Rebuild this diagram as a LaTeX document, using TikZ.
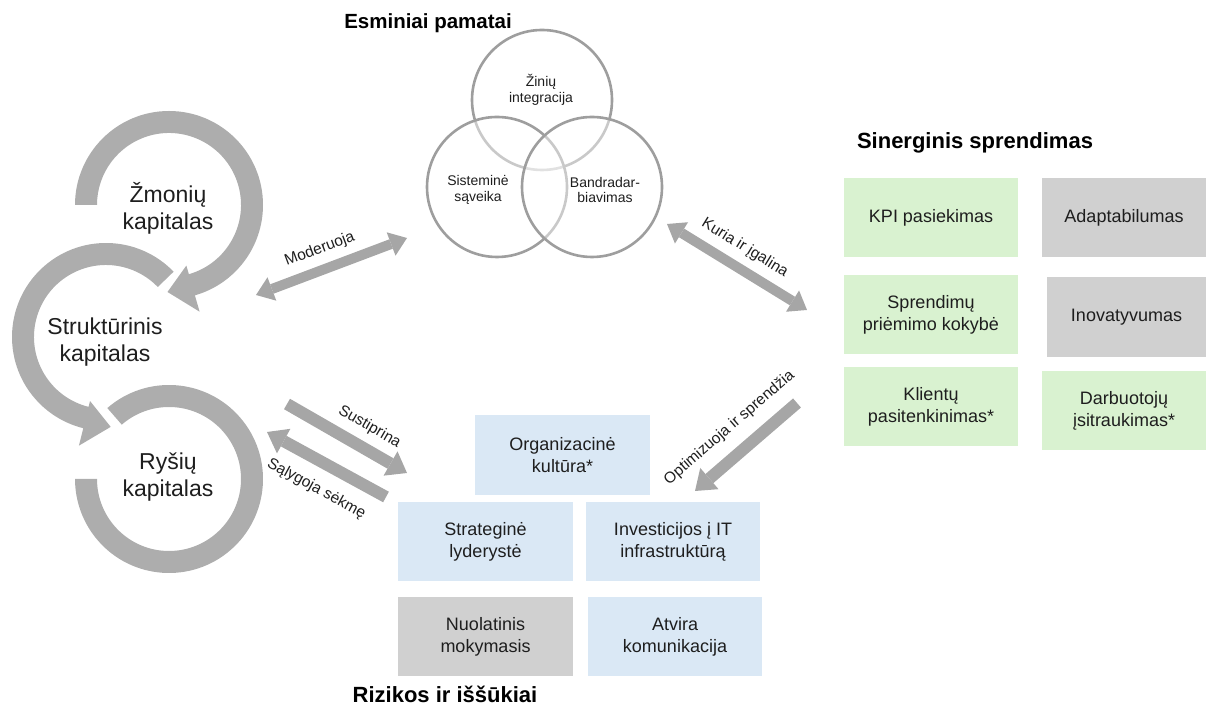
\documentclass[tikz,border=0pt]{standalone}
\usepackage{fontspec}
\setmainfont{Liberation Sans}
\usetikzlibrary{arrows.meta,calc}

\definecolor{boxblue}{RGB}{218,232,245}
\definecolor{boxgreen}{RGB}{217,242,208}
\definecolor{boxgrey}{RGB}{208,208,208}
\definecolor{arrowgrey}{RGB}{166,166,166}
\definecolor{cyclegrey}{RGB}{173,173,173}
\definecolor{ringgrey}{RGB}{158,158,158}
\definecolor{ink}{RGB}{30,30,30}

\tikzset{
  tile/.style={rectangle, inner sep=2pt, align=center, text=ink,
    font=\fontsize{18}{22}\selectfont},
  bluetile/.style={tile, fill=boxblue},
  greentile/.style={tile, fill=boxgreen},
  greytile/.style={tile, fill=boxgrey},
  ring/.style={circle, minimum size=140pt, inner sep=0pt, draw=ringgrey,
    line width=2.6pt, fill=white, fill opacity=0.45},
  ringtext/.style={align=center, text=ink, font=\fontsize{14}{15.5}\selectfont},
  heading/.style={font=\bfseries\fontsize{22}{24}\selectfont, text=black},
  cyclab/.style={align=center, text=ink, font=\fontsize{23}{27}\selectfont},
  cycarc/.style={fill=cyclegrey},
  arrowlab/.style={text=ink, font=\fontsize{15.5}{17}\selectfont, inner sep=1pt},
  twoway/.style={draw=arrowgrey, line width=10pt,
    {Triangle[length=17pt,width=25pt,line width=0pt]}-{Triangle[length=17pt,width=25pt,line width=0pt]}},
  oneway/.style={draw=arrowgrey, line width=12pt,
    -{Triangle[length=19pt,width=28pt,line width=0pt]}}
}

\begin{document}
\begin{tikzpicture}[x=1pt,y=1pt]
\useasboundingbox (0,0) rectangle (1206,706);

% ---------- capital cycle ----------
\coordinate (C1) at (169,501);
\coordinate (C2) at (106,369);
\coordinate (C3) at (169,227);

\fill[cycarc] ($(C1)+(180:94)$) arc[start angle=180,end angle=-74,radius=94]
  -- ($(C1)+(-74:111)$) -- ($(C1)+(-91:87)$) -- ($(C1)+(-74:63)$)
  -- ($(C1)+(-74:72)$) arc[start angle=-74,end angle=180,radius=72] -- cycle;

\fill[cycarc] ($(C2)+(44:94)$) arc[start angle=44,end angle=256,radius=94]
  -- ($(C2)+(256:112)$) -- ($(C2)+(273:90)$) -- ($(C2)+(256:66)$)
  -- ($(C2)+(256:72)$) arc[start angle=256,end angle=44,radius=72] -- cycle;

\fill[cycarc] ($(C3)+(131:94)$) arc[start angle=131,end angle=-180,radius=94]
  -- ($(C3)+(180:72)$) arc[start angle=-180,end angle=131,radius=72] -- cycle;

\node[cyclab] (human) at (168,498) {Žmonių\\kapitalas};
\node[cyclab] (struct) at (105,364) {Struktūrinis\\kapitalas};
\node[cyclab] (relat) at (168,229) {Ryšių\\kapitalas};

% ---------- foundations (Venn) ----------
\node[heading, font=\bfseries\fontsize{20.5}{24}\selectfont] (tfound) at (428,683) {Esminiai pamatai};
\node[ring] (vtop) at (542,606) {};
\node[ring] (vleft) at (497,519) {};
\node[ring] (vright) at (592,519) {};
\node[ringtext] (ttop) at (541,616) {Žinių\\integracija};
\node[ringtext] (tleft) at (478,516) {Sisteminė\\sąveika};
\node[ringtext] (tright) at (605,516) {Bandradar-\\biavimas};

% ---------- synergy outcomes ----------
\node[heading] (tsyn) at (975,563) {Sinerginis sprendimas};
\node[greentile, minimum width=174pt, minimum height=79pt] (kpi) at (931,488.5) {KPI pasiekimas};
\node[greytile, minimum width=164pt, minimum height=79pt] (adapt) at (1124,488.5) {Adaptabilumas};
\node[greentile, minimum width=174pt, minimum height=79pt] (decis) at (931,391.5) {Sprendimų\\priėmimo kokybė};
\node[greytile, minimum width=159pt, minimum height=80pt] (innov) at (1126.5,389) {Inovatyvumas};
\node[greentile, minimum width=174pt, minimum height=79pt] (client) at (931,299.5) {Klientų\\pasitenkinimas*};
\node[greentile, minimum width=164pt, minimum height=79pt] (staff) at (1124,295.5) {Darbuotojų\\įsitraukimas*};

% ---------- risks and challenges ----------
\node[bluetile, minimum width=175pt, minimum height=80pt] (culture) at (562.5,251) {Organizacinė\\kultūra*};
\node[bluetile, minimum width=175pt, minimum height=79pt] (lead) at (485.5,164.5) {Strateginė\\lyderystė};
\node[bluetile, minimum width=174pt, minimum height=79pt] (invest) at (673,164.5) {Investicijos į IT\\infrastruktūrą};
\node[greytile, minimum width=175pt, minimum height=79pt] (learn) at (485.5,69.5) {Nuolatinis\\mokymasis};
\node[bluetile, minimum width=174pt, minimum height=79pt] (comm) at (675,69.5) {Atvira\\komunikacija};
\node[heading] (trisk) at (445,12) {Rizikos ir iššūkiai};

% ---------- connecting arrows ----------
\coordinate (m1) at (256,411);
\coordinate (m2) at (407,468);
\coordinate (k1) at (667,482);
\coordinate (k2) at (807,396);
\coordinate (o1) at (797,303);
\coordinate (o2) at (695,215);
\coordinate (s1) at (287,302);
\coordinate (s2) at (407,233);
\coordinate (q1) at (386,209);
\coordinate (q2) at (267,274);

\draw[twoway] (m1) -- node[arrowlab, sloped, above=7pt, pos=0.47] (lmod) {Moderuoja} (m2);
\draw[twoway] (k1) -- node[arrowlab, sloped, above=7pt, pos=0.48] (lkur) {Kuria ir įgalina} (k2);
\draw[oneway] (o1) -- node[arrowlab, sloped, above=11pt, pos=0.5] (lopt) {Optimizuoja ir sprendžia} (o2);
\draw[oneway] (s1) -- node[arrowlab, sloped, above=7pt, pos=0.6] (lsus) {Sustiprina} (s2);
\draw[oneway] (q1) -- node[arrowlab, sloped, below=12pt, pos=0.48] (lsal) {Sąlygoja sėkmę} (q2);

\end{tikzpicture}
\end{document}
